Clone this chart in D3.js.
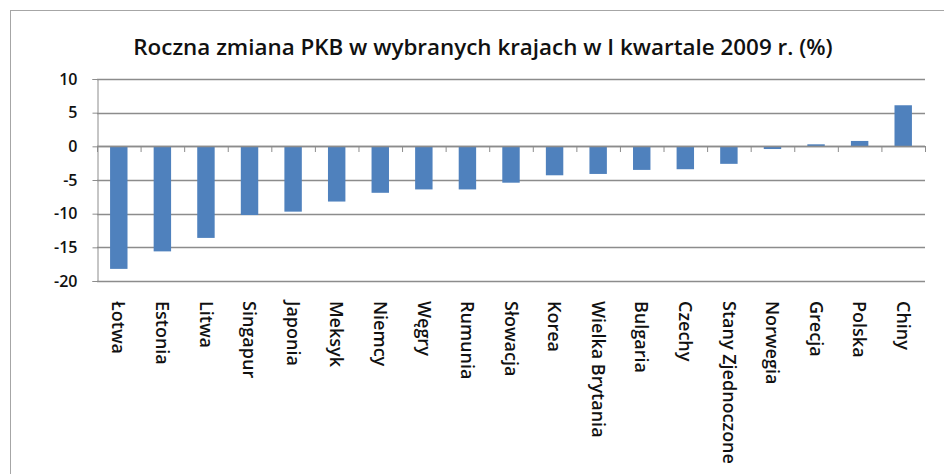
<!DOCTYPE html>
<html>
<head>
<meta charset="utf-8">
<script src="https://cdnjs.cloudflare.com/ajax/libs/d3/7.8.5/d3.min.js"></script>
<style>
body { margin: 0; background: #fff; }
svg { display: block; font-family: "Open Sans", "Noto Sans", sans-serif; }
</style>
</head>
<body>
<div id="chart"></div>
<script>
// dane z wykresu
var kraje = ["Łotwa", "Estonia", "Litwa", "Singapur", "Japonia", "Meksyk", "Niemcy", "Węgry",
	"Rumunia", "Słowacja", "Korea", "Wielka Brytania", "Bulgaria", "Czechy",
	"Stany Zjednoczone", "Norwegia", "Grecja", "Polska", "Chiny"];
var zmiana = [-18.2, -15.6, -13.6, -10.2, -9.7, -8.2, -6.9, -6.4, -6.4, -5.4, -4.3, -4.1,
	-3.5, -3.4, -2.6, -0.4, 0.3, 0.8, 6.1];
var yTicks = [10, 5, 0, -5, -10, -15, -20];
var tytul = "Roczna zmiana PKB w wybranych krajach w I kwartale 2009 r. (%)";

var width = 944, height = 474;
var margin = { left: 97, right: 19, top: 79, bottom: 193 }; // obszar wykresu

var svg = d3.select("#chart").append("svg").attr("width", width).attr("height", height);

// ramka wykresu
svg.append("rect").attr("x", 10.5).attr("y", 10.5).attr("width", 950).attr("height", 480)
	.attr("fill", "none").attr("stroke", "#a6a6a6").attr("stroke-width", 1);

svg.append("text").attr("x", 483).attr("y", 55).attr("text-anchor", "middle")
	.attr("font-size", 22.4).attr("font-weight", 600).attr("fill", "#111").text(tytul);

var x = d3.scaleBand().domain(kraje).range([margin.left, width - margin.right])
	.paddingInner(0.6).paddingOuter(0.3);
var y = d3.scaleLinear().domain([-20, 10]).range([height - margin.bottom, margin.top]);

// linie siatki
svg.append("g").selectAll("line").data(yTicks).enter().append("line")
	.attr("x1", margin.left).attr("x2", width - margin.right)
	.attr("y1", function(d) { return Math.round(y(d)) + 0.5; })
	.attr("y2", function(d) { return Math.round(y(d)) + 0.5; })
	.attr("stroke", "#8c8c8c").attr("stroke-width", 1.3);

// os y
var yAxis = svg.append("g").attr("transform", "translate(" + (margin.left + 0.5) + ",0)")
	.call(d3.axisLeft(y).tickValues(yTicks).tickSize(5).tickPadding(15)
		.tickFormat(function(d) { return String(d); }));
yAxis.select(".domain").attr("stroke", "#8c8c8c");
yAxis.selectAll(".tick line").attr("stroke", "#8c8c8c");
yAxis.selectAll("text").attr("font-size", 16).attr("font-weight", 600).attr("fill", "#111")
	.attr("font-family", "\"Open Sans\", sans-serif");

// slupki
svg.append("g").selectAll("rect").data(zmiana).enter().append("rect")
	.attr("x", function(d, i) { return x(kraje[i]); })
	.attr("width", x.bandwidth())
	.attr("y", function(d) { return y(Math.max(0, d)); })
	.attr("height", function(d) { return Math.abs(y(d) - y(0)); })
	.attr("fill", "#4f81bd");

// os x na poziomie zera, znaczniki miedzy kategoriami
var step = x.step();
var granice = d3.range(kraje.length + 1);
svg.append("line").attr("x1", margin.left).attr("x2", width - margin.right)
	.attr("y1", Math.round(y(0)) + 0.5).attr("y2", Math.round(y(0)) + 0.5)
	.attr("stroke", "#8c8c8c").attr("stroke-width", 1.3);
svg.append("g").selectAll("line").data(granice).enter().append("line")
	.attr("x1", function(d) { return margin.left + d * step + 0.5; })
	.attr("x2", function(d) { return margin.left + d * step + 0.5; })
	.attr("y1", Math.round(y(0))).attr("y2", Math.round(y(0)) + 6)
	.attr("stroke", "#8c8c8c");

// etykiety kategorii, obrocone
svg.append("g").selectAll("text").data(kraje).enter().append("text")
	.attr("transform", function(d) {
		return "translate(" + (x(d) + x.bandwidth() / 2) + ",301) rotate(90)";
	})
	.attr("dy", "0.35em").attr("font-size", 18).attr("font-weight", 600).attr("fill", "#111")
	.text(function(d) { return d; });
</script>
</body>
</html>
